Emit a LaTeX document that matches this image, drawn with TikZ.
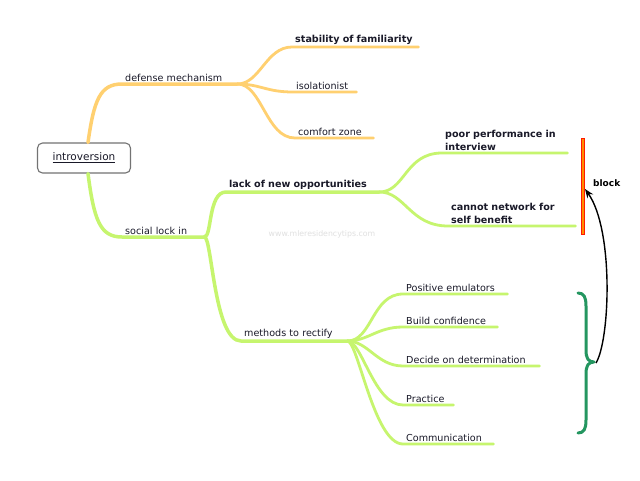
\documentclass[tikz,border=0pt]{standalone}
\usepackage{fontspec}
\setmainfont{DejaVu Sans}
\usetikzlibrary{arrows.meta}
\definecolor{orng}{RGB}{255,208,112}
\definecolor{lime}{RGB}{198,245,110}
\definecolor{brgreen}{RGB}{36,150,96}
\definecolor{txt}{RGB}{25,25,40}
\begin{document}
\begin{tikzpicture}[x=1pt,y=-1pt,
  lbl/.style={anchor=south west,inner xsep=3pt,inner ysep=2.5pt,align=left,font=\fontsize{9.6}{13}\selectfont,text=txt},
  blbl/.style={lbl,font=\fontsize{9.6}{13}\selectfont\bfseries},
  obr/.style={draw=orng,line width=3.5pt,line cap=round},
  oleaf/.style={draw=orng,line width=2.8pt,line cap=round},
  gbr/.style={draw=lime,line width=3.5pt,line cap=round},
  gleaf/.style={draw=lime,line width=2.8pt,line cap=round}]
\useasboundingbox (0,0) rectangle (640,480);
\fill[white] (0,0) rectangle (640,480);
% watermark
\node[font=\fontsize{7.8}{9}\selectfont,text=black!12] (wm) at (322,234) {www.mleresidencytips.com};
% root
\node[draw=black!55,line width=1.1pt,rounded corners=5pt,minimum width=93,minimum height=30,inner sep=0pt,font=\fontsize{10.5}{12}\selectfont,text=txt] (root) at (84,158) {\underline{introversion}};
% level 1
\node[lbl,text width=109] (dm) at (122,84) {\mbox{defense mechanism}};
\node[lbl,text width=76] (sl) at (122,237) {\mbox{social lock in}};
% orange leaves
\node[blbl,text width=120] (sf) at (292,47) {\mbox{stability of familiarity}};
\node[lbl,text width=57] (iso) at (293,92) {\mbox{isolationist}};
\node[lbl,text width=72] (cz) at (295,138) {\mbox{comfort zone}};
% green level 2
\node[blbl,text width=147] (lno) at (226,192) {\mbox{lack of new opportunities}};
\node[lbl,text width=100] (mr) at (241,341) {\mbox{methods to rectify}};
% green leaves
\node[blbl,text width=119] (pp) at (442,153) {\mbox{poor performance in}\\\mbox{interview}};
\node[blbl,text width=121] (cn) at (448,226) {\mbox{cannot network for}\\\mbox{self benefit}};
\node[lbl,text width=98] (pe) at (403,294) {\mbox{Positive emulators}};
\node[lbl,text width=88] (bc) at (403,327) {\mbox{Build confidence}};
\node[lbl,text width=130] (dd) at (403,366) {\mbox{Decide on determination}};
\node[lbl,text width=44] (pr) at (403,405) {\mbox{Practice}};
\node[lbl,text width=84] (cm) at (403,444) {\mbox{Communication}};
% orange branches
\draw[obr] (root.north) ++(4,0) coordinate (rt) .. controls (94,100) and (100,84) .. (dm.south west) -- (dm.south east);
\draw[oleaf] (dm.south east) .. controls (260,84) and (266,47) .. (sf.south west) -- (sf.south east);
\draw[oleaf] (dm.south east) .. controls (260,84) and (266,92) .. (iso.south west) -- (iso.south east);
\draw[oleaf] (dm.south east) .. controls (262,84) and (266,138) .. (cz.south west) -- (cz.south east);
% green branches
\draw[gbr] (root.south) ++(4,0) coordinate (rb) .. controls (94,220) and (100,237) .. (sl.south west) -- (sl.south east);
\draw[gbr] (sl.south east) .. controls (212,237) and (208,192) .. (lno.south west) -- (lno.south east);
\draw[gbr] (sl.south east) .. controls (212,237) and (214,341) .. (mr.south west) -- (mr.south east);
\draw[gleaf] (lno.south east) .. controls (405,192) and (405,153) .. (pp.south west) -- (pp.south east);
\draw[gleaf] (lno.south east) .. controls (405,192) and (410,226) .. (cn.south west) -- (cn.south east);
\draw[gleaf] (mr.south east) .. controls (372,341) and (372,294) .. (pe.south west) -- (pe.south east);
\draw[gleaf] (mr.south east) .. controls (368,341) and (377,327) .. (bc.south west) -- (bc.south east);
\draw[gleaf] (mr.south east) .. controls (368,341) and (377,366) .. (dd.south west) -- (dd.south east);
\draw[gleaf] (mr.south east) .. controls (362,341) and (374,405) .. (pr.south west) -- (pr.south east);
\draw[gleaf] (mr.south east) .. controls (358,341) and (374,444) .. (cm.south west) -- (cm.south east);
% block bar
\node[draw=red!80!orange,fill=orange!90!yellow,line width=0.6pt,minimum width=3.5,minimum height=96,inner sep=0pt] (bar) at (583,186) {};
\node[anchor=west,inner sep=0pt,font=\fontsize{9}{10}\selectfont\bfseries] (blk) at (593,183) {block};
% brace
\coordinate (bt) at (594,362);
\draw[brgreen,line width=3pt,line cap=round,line join=round] (578,293) .. controls (584,293) and (586,297) .. (586,306) -- (586,350) .. controls (586,358) and (588,362) .. (bt) .. controls (588,362) and (586,366) .. (586,374) -- (586,420) .. controls (586,429) and (584,433) .. (578,433);
% arrow
\draw[black,line width=1.4pt,-{Stealth[length=9pt,width=7pt]}] (bt) ++(2,1) .. controls (610,340) and (614,230) .. (bar.east |- 0,189);
\end{tikzpicture}
\end{document}
